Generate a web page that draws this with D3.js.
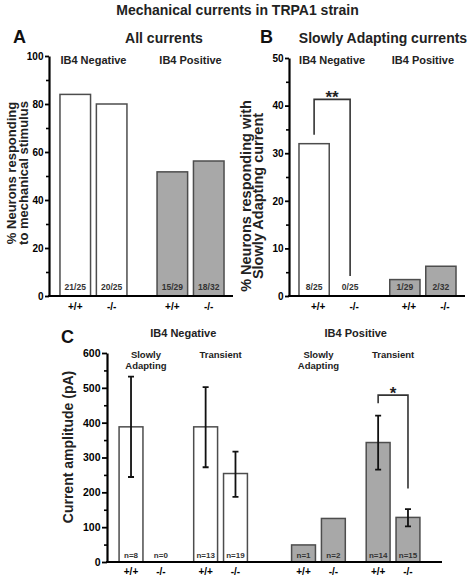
<!DOCTYPE html>
<html>
<head>
<meta charset="utf-8">
<script src="https://cdn.jsdelivr.net/npm/d3@7"></script>
<style>
  html, body { margin: 0; padding: 0; background: #fff; }
  svg { display: block; font-family: "Liberation Sans", Arial, Helvetica, sans-serif; font-weight: bold; }
</style>
</head>
<body>
<svg id="chart" width="470" height="578"></svg>
<script>
// ---------------- DATA ----------------
const mainTitle = "Mechanical currents in TRPA1 strain";
const cellGroups = ["IB4 Negative", "IB4 Positive"];
const genotypes = ["+/+", "-/-"];
const currentTypes = ["Slowly Adapting", "Transient"];

// Panel A: all currents (responders / total)
const allResponders = [21, 20, 15, 18];
const allTotals = [25, 25, 29, 32];
// Panel B: slowly adapting currents (responders / total)
const saResponders = [8, 0, 1, 2];
const saTotals = [25, 25, 29, 32];

// Panel C: current amplitude (pA), order: group > current type > genotype
const ampMean = [388, 0, 388, 254, 49, 125, 343, 128];
const ampLow  = [244, null, 272, 187, null, null, 265, 102];
const ampHigh = [532, null, 502, 317, null, null, 420, 152];
const ampN    = [8, 0, 13, 19, 1, 2, 14, 15];

const ticksA = [0, 20, 40, 60, 80, 100];
const ticksB = [0, 10, 20, 30, 40, 50];
const ticksC = [0, 100, 200, 300, 400, 500, 600];

// significance brackets (data units)
const sigB = { label: "**", top: 41.3, leftEnd: 33.9, rightEnd: 4.2 };
const sigC = { label: "*", top: 479, leftEnd: 456, rightEnd: 211 };

// ---------------- STYLE ----------------
const negFill = "#ffffff", posFill = "#a8a8a8", barStroke = "#4d4d4d";
const svg = d3.select("#chart");

svg.append("text").attr("x", 237.5).attr("y", 14.5).attr("text-anchor", "middle")
  .attr("font-size", 14).attr("fill", "#222").text(mainTitle);

function yAxis(g, y, x0, ticks, minorStep, majorSize, labelSize) {
  const [d0, d1] = y.domain();
  const minor = d3.range(d0, d1 + 1e-9, minorStep).filter(v => !ticks.includes(v));
  g.append("g").attr("transform", `translate(${x0},0)`)
    .call(d3.axisLeft(y).tickValues(minor).tickSize(3).tickFormat(""))
    .call(a => a.select(".domain").remove())
    .call(a => a.selectAll("line").attr("stroke", "#000").attr("stroke-width", 1.6));
  const ax = g.append("g").attr("transform", `translate(${x0},0)`)
    .call(d3.axisLeft(y).tickValues(ticks).tickSize(majorSize).tickSizeOuter(0).tickPadding(1.5));
  ax.select(".domain").attr("stroke", "#000").attr("stroke-width", 2.2);
  ax.selectAll("line").attr("stroke", "#000").attr("stroke-width", 1.8);
  ax.selectAll("text").attr("font-size", labelSize).attr("font-family", null).attr("fill", "#000");
}

function xLine(g, x0, x1, yv) {
  g.append("line").attr("x1", x0 - 1).attr("x2", x1).attr("y1", yv).attr("y2", yv)
    .attr("stroke", "#000").attr("stroke-width", 2.2);
}

function rotLabel(g, cx, cy, lines, size, gap) {
  lines.forEach((t, i) => {
    g.append("text").attr("transform", `translate(${cx + i * gap},${cy}) rotate(-90)`)
      .attr("text-anchor", "middle").attr("font-size", size).attr("fill", "#222").text(t);
  });
}

// ---------------- PANEL A / B ----------------
function pctPanel(opts) {
  const g = svg.append("g");
  const y = d3.scaleLinear().domain([0, opts.max]).range([296, opts.yTop]);
  const x0 = d3.scaleBand().domain(cellGroups).range(opts.xRange).paddingInner(opts.padI).paddingOuter(opts.padO);
  const x1 = d3.scaleBand().domain(genotypes).range([0, x0.bandwidth()]).paddingInner(0.16);
  const rows = [];
  cellGroups.forEach((cg, gi) => genotypes.forEach((gt, ti) => {
    const k = gi * 2 + ti;
    rows.push({ cg, gt, k, v: opts.resp[k] / opts.tot[k] * 100, lab: `${opts.resp[k]}/${opts.tot[k]}` });
  }));
  const bx = d => x0(d.cg) + x1(d.gt);

  g.selectAll("rect.bar").data(rows.filter(d => d.v > 0)).join("rect").attr("class", "bar")
    .attr("x", bx).attr("width", x1.bandwidth())
    .attr("y", d => y(d.v)).attr("height", d => y(0) - y(d.v))
    .attr("fill", d => d.cg === cellGroups[0] ? negFill : posFill)
    .attr("stroke", barStroke).attr("stroke-width", 1.5);

  g.selectAll("text.frac").data(rows).join("text").attr("class", "frac")
    .attr("x", d => bx(d) + x1.bandwidth() / 2).attr("y", 290).attr("text-anchor", "middle")
    .attr("font-size", 8.5).attr("fill", "#333").text(d => d.lab);

  g.selectAll("text.gt").data(rows).join("text").attr("class", "gt")
    .attr("x", d => bx(d) + x1.bandwidth() / 2 + opts.gtShift).attr("y", 309.5).attr("text-anchor", "middle")
    .attr("font-size", 10).attr("fill", "#000").text(d => d.gt);

  g.selectAll("text.grp").data(cellGroups).join("text").attr("class", "grp")
    .attr("x", (d, i) => x0(d) + x0.bandwidth() / 2 + opts.grpShift[i]).attr("y", 63.5).attr("text-anchor", "middle")
    .attr("font-size", 11).attr("fill", "#222").text(d => d);

  xLine(g, opts.xRange[0], opts.axisEnd, 296);
  yAxis(g, y, opts.xRange[0], opts.ticks, opts.minor, opts.majorSize, 10);
  rotLabel(g, opts.labX, opts.labY, opts.yLabel, opts.labSize, opts.labGap);

  g.append("text").attr("x", opts.letterX).attr("y", 43).attr("font-size", 18).attr("fill", "#111").text(opts.letter);
  g.append("text").attr("x", opts.titleX).attr("y", 43).attr("text-anchor", "middle")
    .attr("font-size", 14).attr("fill", "#222").text(opts.title);

  if (opts.sig) {
    const s = opts.sig;
    const xl = bx(rows[0]) + x1.bandwidth() / 2, xr = bx(rows[1]) + x1.bandwidth() / 2;
    g.append("path").attr("d", `M${xl},${y(s.leftEnd)}V${y(s.top)}H${xr}V${y(s.rightEnd)}`)
      .attr("fill", "none").attr("stroke", "#333").attr("stroke-width", 1.6);
    g.append("text").attr("x", (xl + xr) / 2).attr("y", y(s.top) + 3.5).attr("text-anchor", "middle")
      .attr("font-size", 17).attr("fill", "#222").text(s.label);
  }
}

pctPanel({
  max: 100, yTop: 56, xRange: [49, 235], axisEnd: 233, padI: 0.31, padO: 0.113,
  resp: allResponders, tot: allTotals, ticks: ticksA, minor: 10, majorSize: 4,
  yLabel: ["% Neurons responding", "to mechanical stimulus"], labX: 15.5, labY: 173, labSize: 13, labGap: 12,
  letter: "A", letterX: 13, title: "All currents", titleX: 164, gtShift: 0, grpShift: [0, 0]
});
pctPanel({
  max: 50, yTop: 58, xRange: [289, 466], axisEnd: 465, padI: 0.27, padO: 0.11,
  resp: saResponders, tot: saTotals, ticks: ticksB, minor: 5, majorSize: 4,
  yLabel: ["% Neurons responding with", "Slowly Adapting current"], labX: 250.5, labY: 196, labSize: 14.5, labGap: 12,
  letter: "B", letterX: 260, title: "Slowly Adapting currents", titleX: 383, gtShift: 4, grpShift: [0, 0],
  sig: sigB
});

// ---------------- PANEL C ----------------
(function () {
  const g = svg.append("g");
  const y = d3.scaleLinear().domain([0, 600]).range([562, 353]);
  const x0 = d3.scaleBand().domain(cellGroups).range([107, 432]).paddingInner(0.256).paddingOuter(0.07);
  const x1 = d3.scaleBand().domain(currentTypes).range([0, x0.bandwidth()]).paddingInner(0.28);
  const x2 = d3.scaleBand().domain(genotypes).range([0, x1.bandwidth()]).paddingInner(0.2);
  const rows = [];
  let k = 0;
  cellGroups.forEach(cg => currentTypes.forEach(ct => genotypes.forEach(gt => {
    rows.push({ cg, ct, gt, v: ampMean[k], lo: ampLow[k], hi: ampHigh[k], n: ampN[k] });
    k++;
  })));
  const bx = d => x0(d.cg) + x1(d.ct) + x2(d.gt);
  const bw = x2.bandwidth();

  g.selectAll("rect.bar").data(rows.filter(d => d.v > 0)).join("rect").attr("class", "bar")
    .attr("x", bx).attr("width", bw)
    .attr("y", d => y(d.v)).attr("height", d => y(0) - y(d.v))
    .attr("fill", d => d.cg === cellGroups[0] ? negFill : posFill)
    .attr("stroke", barStroke).attr("stroke-width", 1.5);

  const eb = rows.filter(d => d.lo != null);
  g.selectAll("path.err").data(eb).join("path").attr("class", "err")
    .attr("d", d => {
      const cx = bx(d) + bw / 2;
      return `M${cx},${y(d.lo)}V${y(d.hi)}M${cx - 3},${y(d.hi)}H${cx + 3}M${cx - 3},${y(d.lo)}H${cx + 3}`;
    })
    .attr("fill", "none").attr("stroke", "#111").attr("stroke-width", 1.8);

  g.selectAll("text.n").data(rows).join("text").attr("class", "n")
    .attr("x", d => bx(d) + bw / 2).attr("y", 558).attr("text-anchor", "middle")
    .attr("font-size", 8).attr("fill", "#333").text(d => `n=${d.n}`);

  g.selectAll("text.gt").data(rows).join("text").attr("class", "gt")
    .attr("x", d => bx(d) + bw / 2).attr("y", 575).attr("text-anchor", "middle")
    .attr("font-size", 10).attr("fill", "#000").text(d => d.gt);

  const pairs = [];
  cellGroups.forEach(cg => currentTypes.forEach(ct => pairs.push({ cg, ct })));
  pairs.forEach(p => {
    const cx = x0(p.cg) + x1(p.ct) + x1.bandwidth() / 2;
    const words = p.ct.split(" ");
    words.forEach((w, i) => {
      g.append("text").attr("x", cx).attr("y", 358 + i * 10.5).attr("text-anchor", "middle")
        .attr("font-size", 9.5).attr("fill", "#222").text(w);
    });
  });

  g.selectAll("text.grp").data(cellGroups).join("text").attr("class", "grp")
    .attr("x", d => x0(d) + x0.bandwidth() / 2).attr("y", 337).attr("text-anchor", "middle")
    .attr("font-size", 11).attr("fill", "#222").text(d => d);

  xLine(g, 107, 442, 562);
  yAxis(g, y, 107, ticksC, 50, 5, 10.5);
  rotLabel(g, 73, 447, ["Current amplitude (pA)"], 14, 0);
  g.append("text").attr("x", 61).attr("y", 343).attr("font-size", 18).attr("fill", "#111").text("C");

  const l = rows[6], r = rows[7];
  const xl = bx(l) + bw / 2, xr = bx(r) + bw / 2;
  g.append("path").attr("d", `M${xl},${y(sigC.leftEnd)}V${y(sigC.top)}H${xr}V${y(sigC.rightEnd)}`)
    .attr("fill", "none").attr("stroke", "#333").attr("stroke-width", 1.6);
  g.append("text").attr("x", (xl + xr) / 2).attr("y", y(sigC.top) + 3.5).attr("text-anchor", "middle")
    .attr("font-size", 17).attr("fill", "#222").text(sigC.label);
})();
</script>
</body>
</html>
